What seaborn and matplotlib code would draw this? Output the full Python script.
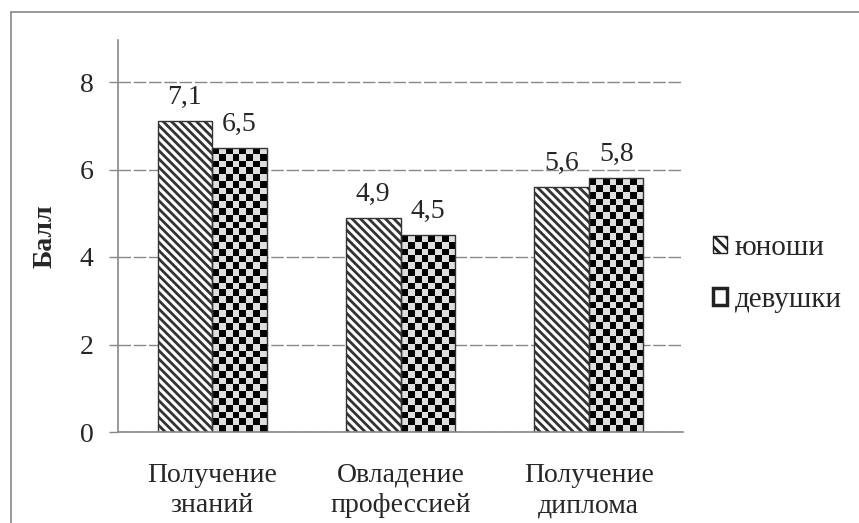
import numpy as np
import pandas as pd
import seaborn as sns
import matplotlib.pyplot as plt
from matplotlib.lines import Line2D
from matplotlib.patches import Patch

categories = ["Получение\nзнаний", "Овладение\nпрофессией", "Получение\nдиплома"]
series = ["юноши", "девушки"]
boys = [7.1, 4.9, 5.6]
girls = [6.5, 4.5, 5.8]
boys_labels = ["7,1", "4,9", "5,6"]
girls_labels = ["6,5", "4,5", "5,8"]
yticks = [0, 2, 4, 6, 8]

sns.set_theme(style="white")
plt.rcParams['font.family'] = ['Liberation Serif', 'DejaVu Serif']
plt.rcParams['hatch.linewidth'] = 2.0
plt.rcParams['hatch.color'] = '#111111'

df = pd.DataFrame({
    "cat": categories * 2,
    "val": boys + girls,
    "series": [series[0]] * 3 + [series[1]] * 3,
})

fig = plt.figure(figsize=(8.59, 5.23), dpi=100)
ax = fig.add_axes([118 / 859, 91 / 523, 565 / 859, 392 / 523])

sns.barplot(data=df, x="cat", y="val", hue="series", hue_order=series,
            order=categories, ax=ax, width=0.58, gap=0, legend=False,
            saturation=1, palette=["white", "white"], edgecolor="#333333",
            linewidth=1.0, errorbar=None)

ax.set_xlim(-0.5, 2.5)
ax.set_ylim(0, 8.96)
ax.set_yticks(yticks)
ax.set_yticklabels([str(t) for t in yticks], fontsize=20)
ax.tick_params(axis='y', length=6.5, width=1, color='#888888', pad=11, direction='out', left=True)
ax.tick_params(axis='x', length=0, pad=22, labelsize=20)
for lbl in ax.get_xticklabels():
    lbl.set_linespacing(1.3)
ax.set_xlabel("")
ax.set_ylabel("Балл", fontsize=20, fontweight='bold', labelpad=16)
ax.grid(axis='y', color='#888888', linestyle=(0, (9, 2)), linewidth=1)
ax.set_axisbelow(True)
for s in ['top', 'right']:
    ax.spines[s].set_visible(False)
for s in ['left', 'bottom']:
    ax.spines[s].set_color('#888888')
    ax.spines[s].set_linewidth(1.2)

c0, c1 = ax.containers[0], ax.containers[1]
for p in c0:
    p.set_hatch('\\\\\\\\')
    p.set_edgecolor('#333333')

# checkerboard fill for second series
sq = 6.8  # pixel size of a square
inv = ax.transData
for p in c1:
    p.set_facecolor('none')
    x0, y0 = p.get_x(), p.get_y()
    w, h = p.get_width(), p.get_height()
    (px0, py0) = inv.transform((x0, y0))
    (px1, py1) = inv.transform((x0 + w, y0 + h))
    nx = max(1, int(round((px1 - px0) / sq)))
    ny = max(1, int(round((py1 - py0) / sq)))
    board = (np.add.outer(np.arange(ny), np.arange(nx)) % 2).astype(float)
    im = ax.imshow(board, cmap='gray', vmin=0, vmax=1.15, extent=(x0, x0 + w, y0, y0 + h),
                   aspect='auto', interpolation='nearest', zorder=p.get_zorder() - 0.1,
                   origin='upper')
    im.set_clip_path(p)

ax.set_xlim(-0.5, 2.5)
ax.set_ylim(0, 8.96)

ax.bar_label(c0, labels=boys_labels, padding=8, fontsize=20)
ax.bar_label(c1, labels=girls_labels, padding=8, fontsize=20)

handles = [
    Patch(facecolor='white', edgecolor='#222222', hatch='\\\\\\', label=series[0]),
    Patch(facecolor='white', edgecolor='#222222', linewidth=2.5, label=series[1]),
]
fig.legend(handles=handles, loc='center left', bbox_to_anchor=(698 / 859, 1 - 274 / 523),
           frameon=False, fontsize=21, handlelength=0.5, handleheight=0.5,
           handletextpad=0.25, labelspacing=0.9, borderpad=0)

# outer chart-area border (top and left visible)
fig.add_artist(Line2D([11 / 859, 1], [1 - 12 / 523, 1 - 12 / 523], transform=fig.transFigure,
                      color='#888888', linewidth=1.2))
fig.add_artist(Line2D([11 / 859, 11 / 859], [0, 1 - 12 / 523], transform=fig.transFigure,
                      color='#888888', linewidth=1.2))

fig.savefig("out.png", dpi=100)
